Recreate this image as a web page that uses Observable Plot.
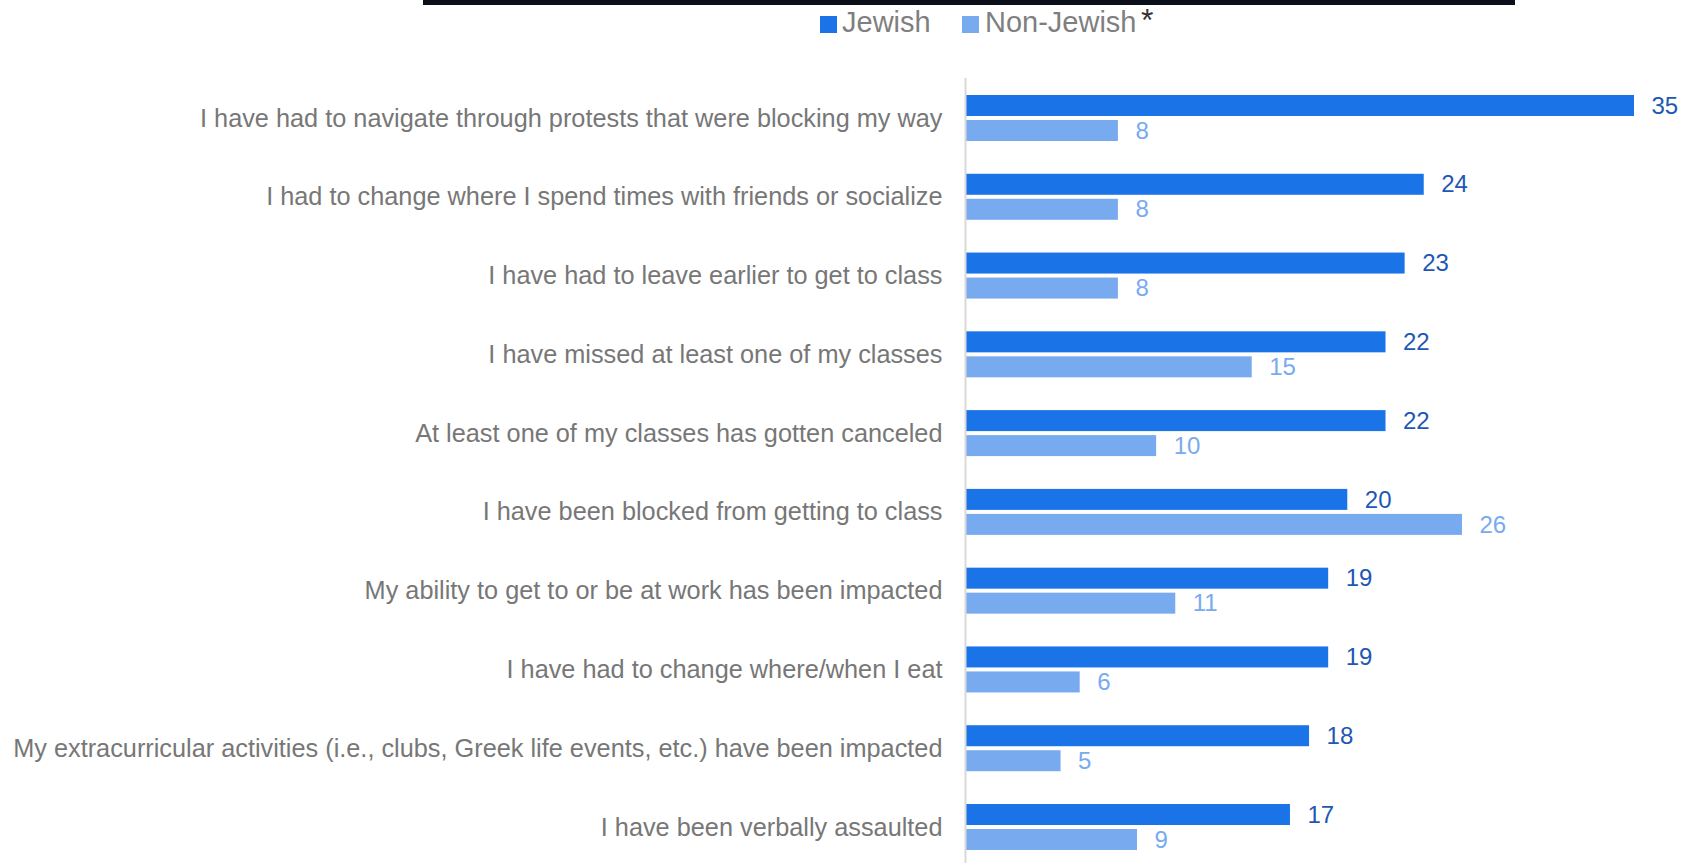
<!DOCTYPE html>
<html>
<head>
<meta charset="utf-8">
<script src="https://cdn.jsdelivr.net/npm/d3@7"></script>
<script src="https://cdn.jsdelivr.net/npm/@observablehq/plot@0.6"></script>
<style>
  html, body { margin: 0; padding: 0; background: #fff; }
  body { width: 1686px; height: 863px; overflow: hidden; font-family: "Liberation Sans", Arial, sans-serif; }
  #header { position: relative; width: 1686px; height: 78px; }
  #topbar { position: absolute; left: 423px; top: 0; width: 1092px; height: 5px; background: #0b0f19; }
  .sw { position: absolute; top: 16px; width: 17px; height: 17px; }
  .lt { position: absolute; top: 8px; font-size: 29px; line-height: 29px; color: #7f7f7f; white-space: nowrap; }
  #chart svg { display: block; }
</style>
</head>
<body>
<div id="header">
  <div id="topbar"></div>
  <div class="sw" style="left:820px;background:#1b73e8"></div>
  <span class="lt" style="left:842px">Jewish</span>
  <div class="sw" style="left:962px;background:#78aaf0"></div>
  <span class="lt" style="left:985px">Non-Jewish</span>
  <span class="lt" style="left:1141px;top:4px;font-size:32px;line-height:32px;color:#333">*</span>
</div>
<div id="chart"></div>
<script>
const questions = [
  "I have had to navigate through protests that were blocking my way",
  "I had to change where I spend times with friends or socialize",
  "I have had to leave earlier to get to class",
  "I have missed at least one of my classes",
  "At least one of my classes has gotten canceled",
  "I have been blocked from getting to class",
  "My ability to get to or be at work has been impacted",
  "I have had to change where/when I eat",
  "My extracurricular activities (i.e., clubs, Greek life events, etc.) have been impacted",
  "I have been verbally assaulted"
];
const jewish = [35, 24, 23, 22, 22, 20, 19, 19, 18, 17];
const nonJewish = [8, 8, 8, 15, 10, 26, 11, 6, 5, 9];

const dataJ = questions.map((q, i) => ({q, v: jewish[i]}));
const dataN = questions.map((q, i) => ({q, v: nonJewish[i]}));

const darkBar = "#1b73e8", lightBar = "#78aaf0";
const darkText = "#1d58b4", lightText = "#78aaf0";

const chart = Plot.plot({
  width: 1686,
  height: 785,
  marginLeft: 965,
  marginRight: 52,
  marginTop: 17,
  marginBottom: 13,
  style: {fontFamily: "'Liberation Sans', Arial, sans-serif", background: "#fff"},
  x: {domain: [0, 35], axis: null},
  y: {domain: questions, paddingInner: 0.416, paddingOuter: 0, round: false, axis: null},
  marks: [
    Plot.barX(dataJ, {x: "v", y: "q", fill: darkBar, insetBottom: 25, insetTop: 0}),
    Plot.barX(dataN, {x: "v", y: "q", fill: lightBar, insetTop: 25, insetBottom: 0}),
    Plot.ruleX([0], {stroke: "#d9d9d9", strokeWidth: 2, insetTop: -17, insetBottom: -13}),
    Plot.text(dataJ, {x: "v", y: "q", text: d => String(d.v), dx: 17, dy: -12.5, textAnchor: "start", fill: darkText, fontSize: 24}),
    Plot.text(dataN, {x: "v", y: "q", text: d => String(d.v), dx: 17, dy: 12.5, textAnchor: "start", fill: lightText, fontSize: 24}),
    Plot.axisY({tickSize: 0, tickPadding: 23, fontSize: 25.3, color: "#777777", label: null, lineWidth: Infinity})
  ]
});
document.getElementById("chart").appendChild(chart);
</script>
</body>
</html>
